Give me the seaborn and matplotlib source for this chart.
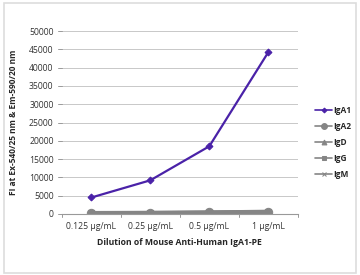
import matplotlib
matplotlib.use("Agg")
import matplotlib.pyplot as plt
import seaborn as sns
import pandas as pd
from matplotlib.patches import Rectangle

doses = ["0.125 µg/mL", "0.25 µg/mL", "0.5 µg/mL", "1 µg/mL"]
iga1 = [4500, 9200, 18500, 44200]
iga2 = [250, 300, 400, 600]
igd = [200, 250, 350, 500]
igg = [150, 200, 300, 450]
igm = [100, 150, 250, 400]
series = ["IgA1", "IgA2", "IgD", "IgG", "IgM"]
yticks = [0, 5000, 10000, 15000, 20000, 25000, 30000, 35000, 40000, 45000, 50000]

rows = []
for name, vals in zip(series, [iga1, iga2, igd, igg, igm]):
    for i, (d, v) in enumerate(zip(doses, vals)):
        rows.append({"pos": i, "dose": d, "value": v, "series": name})
df = pd.DataFrame(rows)

sns.set_theme(style="white")
plt.rcParams["font.family"] = ["Open Sans", "DejaVu Sans"]

fig = plt.figure(figsize=(3.6, 2.75), dpi=100)
fig.patches.append(Rectangle((0.012, 0.008), 0.976, 0.98, transform=fig.transFigure,
                             fill=False, edgecolor="#dddddd", linewidth=1.2))
ax = fig.add_axes([0.172, 0.222, 0.655, 0.665])

palette = {"IgA1": "#4a22a8", "IgA2": "#858585", "IgD": "#858585", "IgG": "#858585", "IgM": "#858585"}
markers = {"IgA1": "D", "IgA2": "o", "IgD": "^", "IgG": "s", "IgM": "x"}
widths = {"IgA1": 1.6, "IgA2": 3.0, "IgD": 3.0, "IgG": 3.0, "IgM": 3.0}
msizes = {"IgA1": 3.5, "IgA2": 6.0, "IgD": 5.0, "IgG": 4.5, "IgM": 4.5}

# gray ones first so IgA1 sits on top
for name in series[::-1]:
    sub = df[df["series"] == name]
    sns.lineplot(data=sub, x="pos", y="value", ax=ax, color=palette[name],
                 marker=markers[name], markersize=msizes[name], linewidth=widths[name],
                 markeredgecolor=palette[name], label=name, legend=False)

ax.set_xlim(-0.5, 3.5)
ax.set_ylim(0, 50000)
ax.set_yticks(yticks)
ax.set_xticks(range(len(doses)))
ax.set_xticklabels(doses)
ax.tick_params(axis="y", labelsize=6.2, colors="#333333", length=0, pad=6)
ax.tick_params(axis="x", labelsize=6.2, colors="#333333", length=0, pad=6)
ax.yaxis.grid(True, color="#c8c8c8", linewidth=0.7)
for s in ["top", "right", "left"]:
    ax.spines[s].set_visible(False)
ax.spines["bottom"].set_color("#999999")
ax.spines["bottom"].set_linewidth(0.8)
for xb in [-0.5, 0.5, 1.5, 2.5, 3.5]:
    ax.plot([xb, xb], [0, -900], color="#999999", linewidth=0.7, clip_on=False)
for yv in yticks:
    ax.plot([-0.5, -0.56], [yv, yv], color="#999999", linewidth=0.7, clip_on=False)
ax.set_xlabel("Dilution of Mouse Anti-Human IgA1-PE", fontsize=6.2, fontweight="bold", labelpad=5)
ax.set_ylabel("FI at Ex-540/25 nm & Em-590/20 nm", fontsize=6.0, fontweight="bold", labelpad=8)

handles, labels = ax.get_legend_handles_labels()
order = [labels.index(n) for n in series]
leg = ax.legend([handles[i] for i in order], [labels[i] for i in order],
                loc="center left", bbox_to_anchor=(1.06, 0.39), frameon=False,
                fontsize=6.0, handlelength=2.0, handletextpad=0.2,
                labelspacing=0.85, borderaxespad=0, markerscale=0.7)
for t in leg.get_texts():
    t.set_fontweight("bold")
for ln in leg.get_lines():
    ln.set_linewidth(1.2)

fig.savefig("out.png", dpi=100)
